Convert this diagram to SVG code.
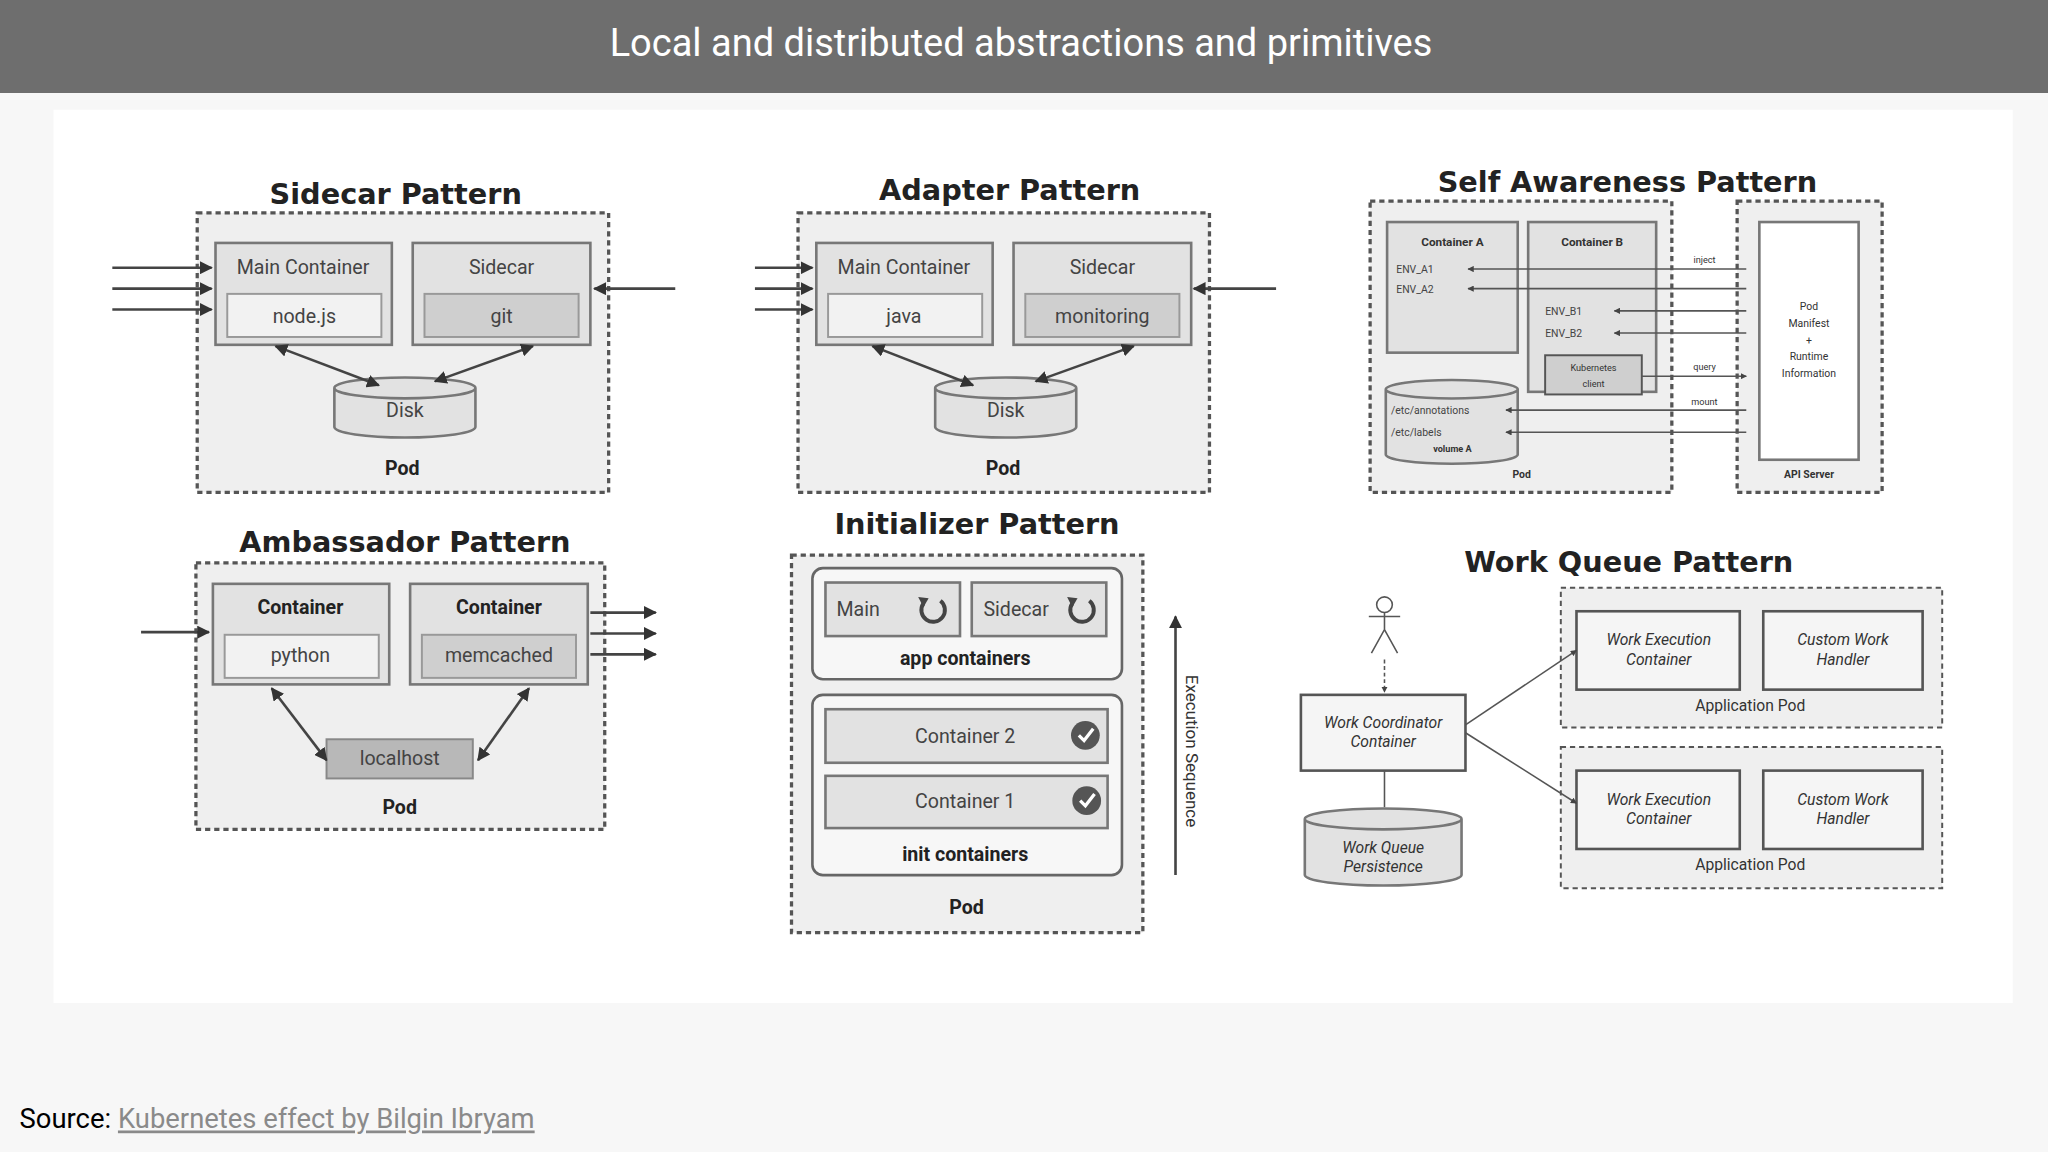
<svg xmlns="http://www.w3.org/2000/svg" width="2048" height="1152" viewBox="0 0 2048 1152">
<style>
text{font-family:Roboto,"Liberation Sans",sans-serif;fill:#333}
.pt{font-family:"DejaVu Sans",sans-serif;font-weight:bold;font-size:22px;text-anchor:middle;fill:#222}
.pod{fill:#efefef;stroke:#555;stroke-width:2.5;stroke-dasharray:4 3}
.box{fill:#e2e2e2;stroke:#777;stroke-width:2}
.in{fill:#f2f2f2;stroke:#999;stroke-width:1.5}
.ing{fill:#cfcfcf;stroke:#999;stroke-width:1.5}
.wb{fill:#f5f5f5;stroke:#555;stroke-width:2}
.t{font-size:15px;text-anchor:middle;fill:#444}
.b{font-size:15px;text-anchor:middle;font-weight:bold;fill:#222}
.s{font-size:8px;fill:#444}
.i{font-size:12px;font-style:italic;text-anchor:middle;fill:#333}
.ln{stroke:#444;stroke-width:2;fill:none;marker-end:url(#a)}
.lb{marker-start:url(#a)}
.ls{stroke:#555;stroke-width:1.2;fill:none}
.lm{marker-end:url(#as)}
</style>
<defs>
<marker id="a" viewBox="0 0 10 10" refX="9" refY="5" markerWidth="5" markerHeight="5" orient="auto-start-reverse"><path d="M0,0L10,5L0,10z" fill="#333"/></marker>
<marker id="as" viewBox="0 0 10 10" refX="9" refY="5" markerWidth="4" markerHeight="4" orient="auto-start-reverse"><path d="M0,0L10,5L0,10z" fill="#444"/></marker>
</defs>
<rect width="2048" height="1152" fill="#f7f7f7"/>
<rect width="2048" height="93" fill="#6e6e6e"/>
<text x="1021" y="56" font-size="38" text-anchor="middle" style="fill:#fff">Local and distributed abstractions and primitives</text>
<g transform="scale(1.30612)">
<rect x="41" y="84" width="1500" height="684" fill="#fff"/>
<text x="15" y="864" font-size="21" style="fill:#000">Source: <tspan style="fill:#8a8a8a" text-decoration="underline">Kubernetes effect by Bilgin Ibryam</tspan></text>

<g id="sidecar">
<text class="pt" x="303" y="156">Sidecar Pattern</text>
<rect class="pod" x="151" y="163" width="315" height="214"/>
<rect class="box" x="165" y="186" width="135" height="78"/><text class="t" x="232" y="210">Main Container</text>
<rect class="in" x="174" y="225" width="118" height="33"/><text class="t" x="233" y="247">node.js</text>
<rect class="box" x="316" y="186" width="136" height="78"/><text class="t" x="384" y="210">Sidecar</text>
<rect class="ing" x="325" y="225" width="118" height="33"/><text class="t" x="384" y="247">git</text>
<path class="box" d="M256,297V327A54,8 0 0 0 364,327V297A54,8 0 0 0 256,297A54,8 0 0 0 364,297"/>
<text class="t" x="310" y="319" font-size="12">Disk</text>
<text class="b" x="308" y="364">Pod</text>
</g>

<g id="adapter">
<text class="pt" x="773" y="153">Adapter Pattern</text>
<rect class="pod" x="611" y="163" width="315" height="214"/>
<rect class="box" x="625" y="186" width="135" height="78"/><text class="t" x="692" y="210">Main Container</text>
<rect class="in" x="634" y="225" width="118" height="33"/><text class="t" x="692" y="247">java</text>
<rect class="box" x="776" y="186" width="136" height="78"/><text class="t" x="844" y="210">Sidecar</text>
<rect class="ing" x="785" y="225" width="118" height="33"/><text class="t" x="844" y="247">monitoring</text>
<path class="box" d="M716,297V327A54,8 0 0 0 824,327V297A54,8 0 0 0 716,297A54,8 0 0 0 824,297"/>
<text class="t" x="770" y="319" font-size="12">Disk</text>
<text class="b" x="768" y="364">Pod</text>
</g>

<g id="selfawareness">
<text class="pt" x="1246" y="147">Self Awareness Pattern</text>
<rect class="pod" x="1049" y="154" width="231" height="223"/>
<rect class="pod" x="1330" y="154" width="111" height="223"/>
<rect class="box" x="1062" y="170" width="100" height="100"/><text x="1112" y="188" font-size="9" font-weight="bold" text-anchor="middle">Container A</text>
<text class="s" x="1069" y="209">ENV_A1</text><text class="s" x="1069" y="224">ENV_A2</text>
<rect class="box" x="1170" y="170" width="98" height="130"/><text x="1219" y="188" font-size="9" font-weight="bold" text-anchor="middle">Container B</text>
<text class="s" x="1183" y="241">ENV_B1</text><text class="s" x="1183" y="258">ENV_B2</text>
<rect class="ing" x="1183" y="272" width="74" height="30" style="stroke:#555"/><text x="1220" y="284" font-size="7" text-anchor="middle">Kubernetes</text><text x="1220" y="296" font-size="7" text-anchor="middle">client</text>
<path class="box" d="M1061,298V348A50,7 0 0 0 1162,348V298A50,7 0 0 0 1061,298A50,7 0 0 0 1162,298"/>
<text class="s" x="1065" y="317" font-size="7">/etc/annotations</text><text class="s" x="1065" y="334" font-size="7">/etc/labels</text>
<text x="1112" y="346" font-size="7" font-weight="bold" text-anchor="middle">volume A</text>
<text x="1165" y="366" font-size="8" font-weight="bold" text-anchor="middle">Pod</text>
<rect x="1347" y="170" width="76" height="182" fill="#fff" stroke="#777" stroke-width="2"/>
<text x="1385" y="237" font-size="8" text-anchor="middle">Pod</text><text x="1385" y="250" font-size="8" text-anchor="middle">Manifest</text><text x="1385" y="263" font-size="8" text-anchor="middle">+</text><text x="1385" y="276" font-size="8" text-anchor="middle">Runtime</text><text x="1385" y="289" font-size="8" text-anchor="middle">Information</text>
<text x="1385" y="366" font-size="8" font-weight="bold" text-anchor="middle">API Server</text>
<text x="1305" y="201" font-size="7" text-anchor="middle">inject</text>
<text x="1305" y="283" font-size="7" text-anchor="middle">query</text>
<text x="1305" y="310" font-size="7" text-anchor="middle">mount</text>
</g>

<g id="ambassador">
<text class="pt" x="310" y="423">Ambassador Pattern</text>
<rect class="pod" x="150" y="431" width="313" height="204"/>
<rect class="box" x="163" y="447" width="135" height="77"/><text class="b" x="230" y="470">Container</text>
<rect class="in" x="172" y="486" width="118" height="33"/><text class="t" x="230" y="507">python</text>
<rect class="box" x="314" y="447" width="136" height="77"/><text class="b" x="382" y="470">Container</text>
<rect class="ing" x="323" y="486" width="118" height="33"/><text class="t" x="382" y="507">memcached</text>
<rect x="250" y="566" width="112" height="30" fill="#b8b8b8" stroke="#888" stroke-width="1.5"/><text class="t" x="306" y="586" font-size="13">localhost</text>
<text class="b" x="306" y="623">Pod</text>
</g>

<g id="initializer">
<text class="pt" x="748" y="409">Initializer Pattern</text>
<rect class="pod" x="606" y="425" width="269" height="289"/>
<rect x="622" y="435" width="237" height="85" rx="8" fill="#f7f7f7" stroke="#666" stroke-width="2"/>
<rect class="box" x="632" y="446" width="103" height="41"/><text class="t" x="657" y="472">Main</text>
<rect class="box" x="744" y="446" width="103" height="41"/><text class="t" x="778" y="472">Sidecar</text>
<path d="M720,460A9,9 0 1 1 707,462" fill="none" stroke="#444" stroke-width="3"/><path d="M703,457L711,458L707,465z" fill="#444"/>
<path d="M834,460A9,9 0 1 1 821,462" fill="none" stroke="#444" stroke-width="3"/><path d="M817,457L825,458L821,465z" fill="#444"/>
<text class="b" x="739" y="509" font-size="14">app containers</text>
<rect x="622" y="532" width="237" height="138" rx="8" fill="#f7f7f7" stroke="#666" stroke-width="2"/>
<rect class="box" x="632" y="543" width="216" height="41"/><text class="t" x="739" y="569">Container 2</text>
<circle cx="831" cy="563" r="11" fill="#555"/><path d="M826,563L830,567L837,558" stroke="#fff" stroke-width="2.5" fill="none"/>
<rect class="box" x="632" y="594" width="216" height="40"/><text class="t" x="739" y="619">Container 1</text>
<circle cx="832" cy="613" r="11" fill="#555"/><path d="M827,613L831,617L838,608" stroke="#fff" stroke-width="2.5" fill="none"/>
<text class="b" x="739" y="659" font-size="14">init containers</text>
<text class="b" x="740" y="700" font-size="16">Pod</text>
<text x="908" y="575" font-size="13" text-anchor="middle" transform="rotate(90 908 575)">Execution Sequence</text>
</g>

<g id="workqueue">
<text class="pt" x="1247" y="438">Work Queue Pattern</text>
<g class="ls" stroke-width="1.6"><circle cx="1060" cy="463" r="6"/><path d="M1048,472H1072M1060,469V482L1050,500M1060,482L1070,500"/></g>
<rect class="wb" x="996" y="532" width="126" height="58"/><text class="i" x="1059" y="557">Work Coordinator</text><text class="i" x="1059" y="572">Container</text>
<path class="box" d="M999,627V670A60,8 0 0 0 1119,670V627A60,8 0 0 0 999,627A60,8 0 0 0 1119,627"/>
<text class="i" x="1059" y="653">Work Queue</text><text class="i" x="1059" y="668">Persistence</text>
<rect class="pod" x="1195" y="450" width="292" height="107" style="stroke-width:1.5"/>
<rect class="wb" x="1207" y="468" width="125" height="60"/><text class="i" x="1270" y="494">Work Execution</text><text class="i" x="1270" y="509">Container</text>
<rect class="wb" x="1350" y="468" width="122" height="60"/><text class="i" x="1411" y="494">Custom Work</text><text class="i" x="1411" y="509">Handler</text>
<text x="1340" y="544" font-size="12" text-anchor="middle">Application Pod</text>
<rect class="pod" x="1195" y="572" width="292" height="108" style="stroke-width:1.5"/>
<rect class="wb" x="1207" y="590" width="125" height="60"/><text class="i" x="1270" y="616">Work Execution</text><text class="i" x="1270" y="631">Container</text>
<rect class="wb" x="1350" y="590" width="122" height="60"/><text class="i" x="1411" y="616">Custom Work</text><text class="i" x="1411" y="631">Handler</text>
<text x="1340" y="666" font-size="12" text-anchor="middle">Application Pod</text>
</g>

<g id="connectors">
<path class="ln" d="M86,205H162"/><path class="ln" d="M86,221H162"/><path class="ln" d="M86,237H162"/><path class="ln" d="M517,221H455"/>
<path class="ln lb" d="M211,265L290,295"/><path class="ln lb" d="M408,265L333,292"/>
<path class="ln" d="M578,205H622"/><path class="ln" d="M578,221H622"/><path class="ln" d="M578,237H622"/><path class="ln" d="M977,221H914"/>
<path class="ln lb" d="M668,265L745,295"/><path class="ln lb" d="M868,265L793,292"/>
<path class="ln" d="M108,484H160"/><path class="ln" d="M452,469H502"/><path class="ln" d="M452,485H502"/><path class="ln" d="M452,501H502"/>
<path class="ln lb" d="M208,527L250,582"/><path class="ln lb" d="M405,527L366,582"/>
<path class="ln" d="M900,670V472"/>
<path class="ls lm" d="M1337,206H1124"/><path class="ls lm" d="M1337,221H1124"/><path class="ls lm" d="M1337,238H1236"/><path class="ls lm" d="M1337,255H1236"/>
<path class="ls lm" d="M1337,314H1153"/><path class="ls lm" d="M1337,331H1153"/><path class="ls lm" d="M1257,288H1337"/>
<path class="ls lm" stroke-dasharray="3 2" d="M1060,505V530"/>
<path class="ls" d="M1060,590V618"/>
<path class="ls lm" d="M1122,555L1207,498"/><path class="ls lm" d="M1122,561L1207,615"/>
</g>
</g>
</svg>
